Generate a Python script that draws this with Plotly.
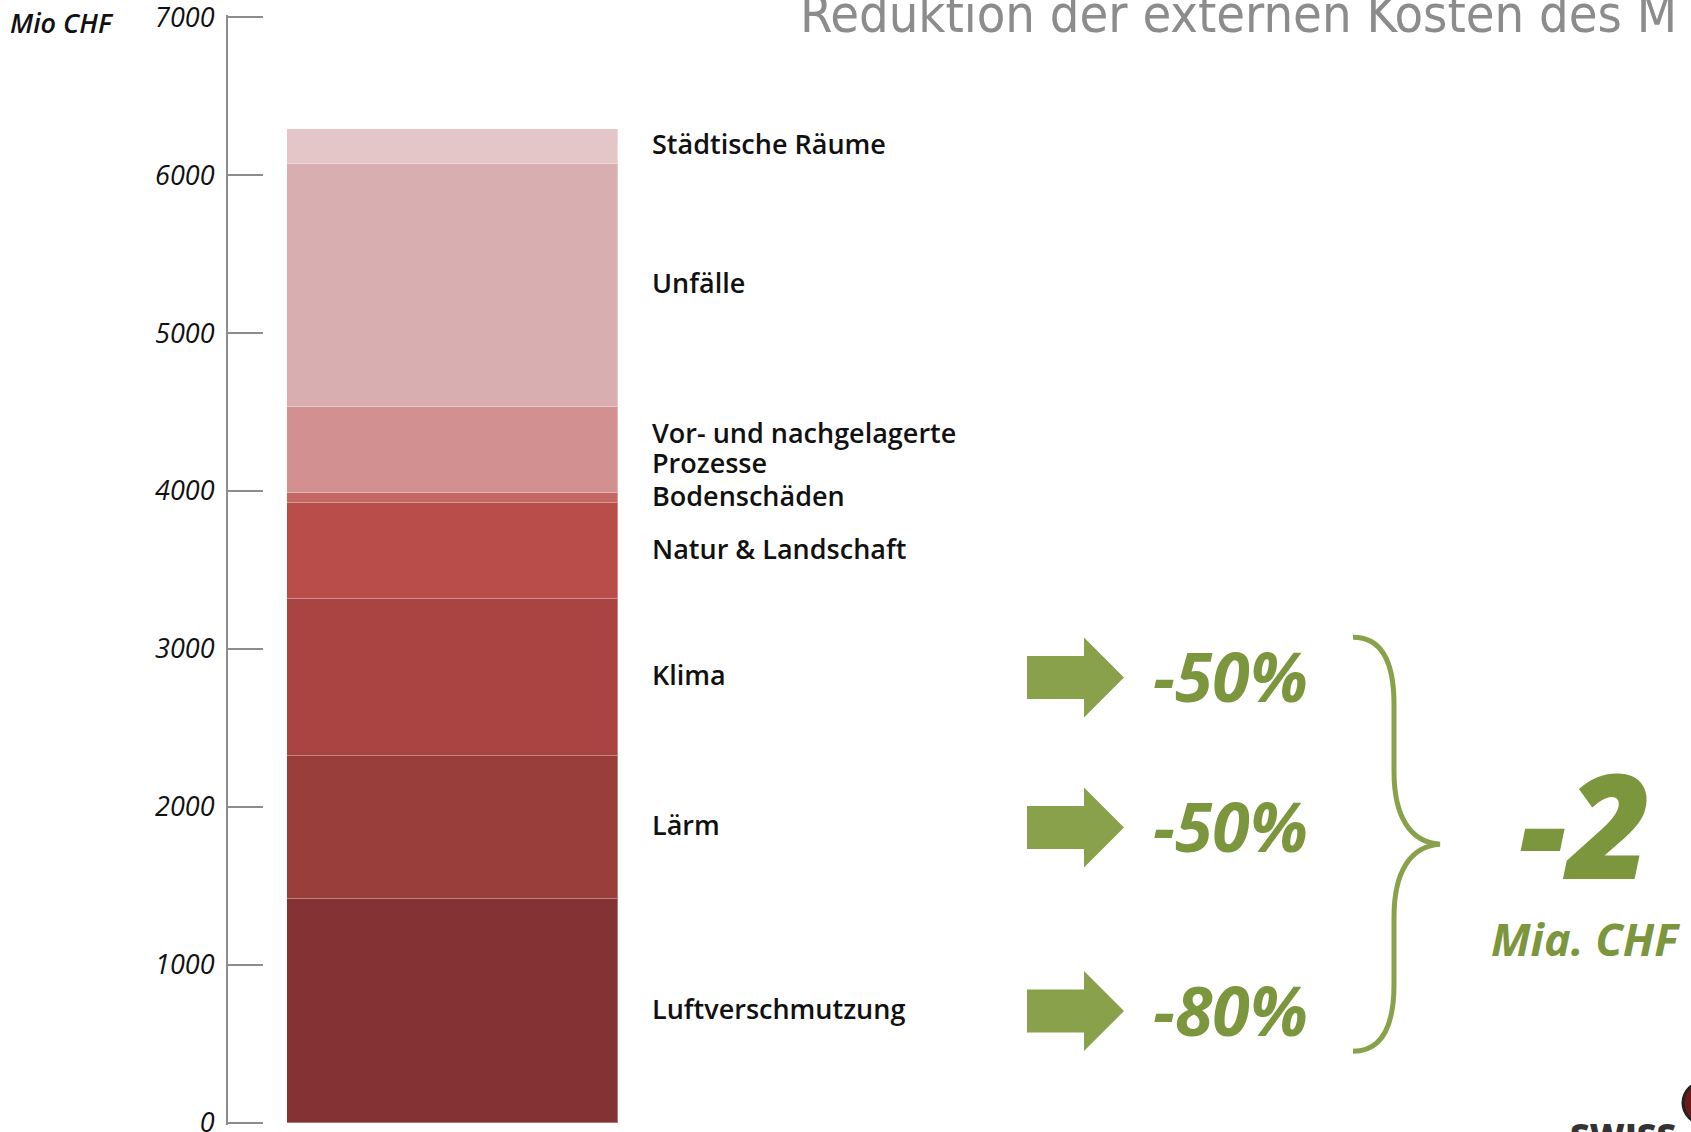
import plotly.graph_objects as go

# ---------------- data ----------------
categories = ["Luftverschmutzung", "Lärm", "Klima", "Natur & Landschaft",
              "Bodenschäden", "Vor- und nachgelagerte<br>Prozesse", "Unfälle",
              "Städtische Räume"]
values = [1415, 909, 991, 608, 62, 545, 1538, 226]   # Mio CHF
colors = ["#853234", "#9a3e3c", "#a94443", "#b84d4a",
          "#c46866", "#d29090", "#d9aeb0", "#e5c6c8"]
reductions = {"Klima": "-50%", "Lärm": "-50%", "Luftverschmutzung": "-80%"}
total_reduction = "-2"
total_unit = "Mia. CHF"
tick_vals = [0, 1000, 2000, 3000, 4000, 5000, 6000, 7000]
y_title = "Mio CHF"
title_text = "Reduktion der externen Kosten des M"

# ---------------- layout helpers ----------------
W, H = 1691, 1132
Y0_PX, Y7_PX = 1123, 17          # pixel rows of 0 and 7000
YMAX = 7000
YPAD = 14                        # small padding so edge ticks are drawn
ppu = (Y0_PX - Y7_PX) / YMAX
L, R = 228, 0
T = Y7_PX - YPAD * ppu
B = H - Y0_PX - YPAD * ppu
PW, PH = W - L - R, H - T - B

def pxx(px):
    return (px - L) / PW

def pxy(py):
    return (H - B - py) / PH

GREEN = "#8aa14b"
GREEN_TXT = "#7b963c"
BAR_X = 452.5
BAR_W = 331
LABEL_FONT = dict(family="Open Sans", size=27, color="#111111", weight=600)

fig = go.Figure()
for cat, val, col in zip(categories, values, colors):
    fig.add_trace(go.Bar(
        x=[BAR_X], y=[val], width=[BAR_W], name=cat.replace("<br>", " "),
        marker=dict(color=col, line=dict(color="rgba(255,255,255,0.35)", width=1)),
        showlegend=False, hoverinfo="y+name"))

# labels at segment midpoints
mids = {}
acc = 0
for cat, val in zip(categories, values):
    mids[cat] = acc + val / 2
    acc += val

annotations = []
for cat in categories:
    lines = cat.split("<br>")
    n = len(lines)
    for i, line in enumerate(lines):
        annotations.append(dict(
            x=650, y=mids[cat], xref="x", yref="y", text=line, showarrow=False,
            xanchor="left", yanchor="middle", align="left",
            yshift=3 + ((n - 1) / 2 - i) * 30,
            font=LABEL_FONT))

shapes = []
arrow_path = "M -97,-21.5 L -40,-21.5 L -40,-40 L 0,0 L -40,40 L -40,21.5 L -97,21.5 Z"
for cat, txt in reductions.items():
    shapes.append(dict(
        type="path", xref="x", yref="y", xsizemode="pixel", ysizemode="pixel",
        xanchor=1124, yanchor=mids[cat], path=arrow_path,
        fillcolor=GREEN, line=dict(width=0)))
    annotations.append(dict(
        x=1151, y=mids[cat], xref="x", yref="y", text=txt, showarrow=False,
        xanchor="left", yanchor="middle", yshift=2,
        font=dict(family="Open Sans", size=68, color=GREEN_TXT, weight=700, style="italic")))

# brace spanning the three reductions
brace_y = (mids["Klima"] + mids["Luftverschmutzung"]) / 2
brace_path = ("M -87,207 C -62,207 -46,188 -46,140 L -46,73 C -46,28 -30,2 0,0 "
              "C -30,-2 -46,-28 -46,-73 L -46,-140 C -46,-188 -62,-207 -87,-207")
shapes.append(dict(
    type="path", xref="x", yref="y", xsizemode="pixel", ysizemode="pixel",
    xanchor=1440, yanchor=brace_y, path=brace_path,
    line=dict(color=GREEN, width=5)))

annotations.append(dict(
    x=1585, y=brace_y, xref="x", yref="y", yshift=22, text=total_reduction,
    showarrow=False, xanchor="center", yanchor="middle",
    font=dict(family="Open Sans", size=146, color=GREEN_TXT, weight=800, style="italic")))
annotations.append(dict(
    x=1585, y=brace_y, xref="x", yref="y", yshift=-94, text=total_unit,
    showarrow=False, xanchor="center", yanchor="middle",
    font=dict(family="Open Sans", size=45, color=GREEN_TXT, weight=700, style="italic")))

# axis unit label
annotations.append(dict(
    x=pxx(62), y=pxy(22), xref="paper", yref="paper", text=y_title, showarrow=False,
    xanchor="center", yanchor="middle",
    font=dict(family="Open Sans", size=27, color="#111111", weight=600, style="italic")))

# title (cut off at the top / right as in the slide)
annotations.append(dict(
    x=pxx(798), y=pxy(14), xref="paper", yref="paper", text=title_text, showarrow=False,
    xanchor="left", yanchor="middle",
    font=dict(family="DejaVu Sans Condensed, DejaVu Sans", size=52, color="#8c8c8c")))

# partial logo at the bottom right
annotations.append(dict(
    x=pxx(1568), y=pxy(1125), xref="paper", yref="paper", text="SWISS", showarrow=False,
    xanchor="left", yanchor="top", yshift=15,
    font=dict(family="Open Sans", size=34, color="#333333", weight=800)))
shapes.append(dict(type="circle", xref="paper", yref="paper",
                   x0=pxx(1683), x1=pxx(1725), y0=pxy(1124), y1=pxy(1082),
                   fillcolor="#6b1a1a", line=dict(color="#222222", width=3)))

fig.update_layout(
    template="none",
    width=W, height=H, autosize=False,
    margin=dict(l=L, r=R, t=T, b=B, pad=0, autoexpand=False),
    paper_bgcolor="white", plot_bgcolor="white",
    barmode="stack", bargap=0,
    xaxis=dict(range=[L, W - R], visible=False, fixedrange=True, automargin=False),
    yaxis=dict(range=[-YPAD, YMAX + YPAD], tickvals=tick_vals, ticks="inside", ticklen=35,
               tickwidth=2, tickcolor="#8c8c8c", showline=True, linecolor="#8c8c8c",
               linewidth=2, showgrid=False, zeroline=False, ticklabelstandoff=6,
               ticklabeloverflow="allow", automargin=False,
               tickfont=dict(family="Open Sans", size=27, color="#111111", style="italic"),
               fixedrange=True),
    annotations=annotations, shapes=shapes,
)

fig.write_html("out.html", config={"displayModeBar": False},
               post_script="document.body.style.margin='0';")
